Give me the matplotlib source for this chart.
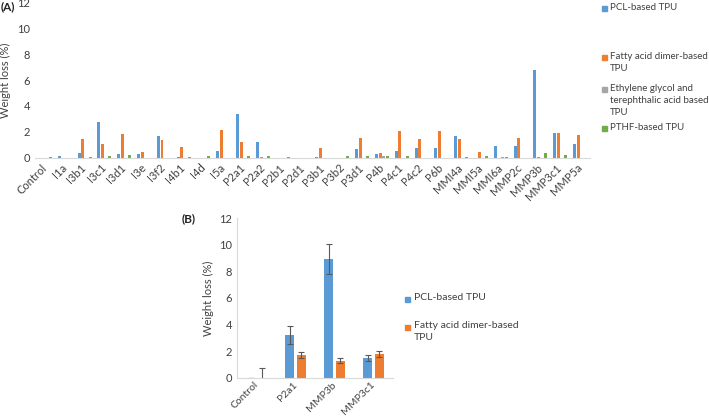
import numpy as np
import matplotlib
matplotlib.use('Agg')
import matplotlib.pyplot as plt
from matplotlib.patches import Rectangle

plt.rcParams['font.family'] = ['Lato', 'DejaVu Sans']

# Panel (A) data
samples = ['Control', 'I1a', 'I3b1', 'I3c1', 'I3d1', 'I3e', 'I3f2', 'I4b1', 'I4d', 'I5a',
           'P2a1', 'P2a2', 'P2b1', 'P2d1', 'P3b1', 'P3b2', 'P3d1', 'P4b', 'P4c1', 'P4c2',
           'P6b', 'MMI4a', 'MMI5a', 'MMI6a', 'MMP2c', 'MMP3b', 'MMP3c1', 'MMP5a']
pcl = [0, 0.13, 0.38, 2.74, 0.30, 0.26, 1.67, 0.03, 0, 0.51,
       3.41, 1.18, 0, 0, 0.05, 0, 0.67, 0.31, 0.49, 0.72,
       0.72, 1.64, 0, 0.92, 0.92, 6.82, 1.90, 1.08]
fatty = [0, 0, 1.46, 1.05, 1.82, 0.41, 1.36, 0.82, 0, 2.13,
         1.20, 0.03, 0, 0, 0.72, 0, 1.49, 0.36, 2.03, 1.41,
         2.03, 1.41, 0.44, 0, 1.54, 0.05, 1.92, 1.72]
eg_ta = [0, 0, 0, 0, 0, 0, 0, 0, 0, 0,
         0, 0, 0, 0, 0, 0, 0, 0.15, 0, 0,
         0, 0, 0, 0.03, 0, 0, 0, 0]
pthf = [0.05, 0, 0.05, 0.13, 0.20, 0, 0, 0.05, 0.10, 0,
        0.13, 0.10, 0.06, 0, 0, 0.08, 0.10, 0.10, 0.10, 0,
        0, 0.05, 0.13, 0.02, 0, 0.38, 0.18, 0]
labels_a = ['PCL-based TPU', 'Fatty acid dimer-based\nTPU',
            'Ethylene glycol and\nterephthalic acid based\nTPU', 'PTHF-based TPU']

# Panel (B) data
samples_b = ['Control', 'P2a1', 'MMP3b', 'MMP3c1']
pcl_b = [-0.05, 3.22, 8.94, 1.48]
pcl_b_err = [0, 0.65, 1.12, 0.25]
fatty_b = [-0.05, 1.71, 1.28, 1.78]
fatty_b_err = [0.8, 0.26, 0.2, 0.25]
labels_b = ['PCL-based TPU', 'Fatty acid dimer-based\nTPU']

colors = ['#5B9BD5', '#ED7D31', '#A5A5A5', '#70AD47']
txt = '#404040'
W, H = 709, 416

fig = plt.figure(figsize=(W / 100, H / 100), dpi=100)


def px_axes(l, t, r, b):
    return fig.add_axes([l / W, 1 - b / H, (r - l) / W, (b - t) / H])


def style(ax):
    for s in ['top', 'right']:
        ax.spines[s].set_visible(False)
    ax.spines['bottom'].set_color('#D9D9D9')
    ax.spines['left'].set_color('#D9D9D9')
    ax.tick_params(length=0, colors=txt, labelsize=8)
    ax.set_ylim(0, 12)
    ax.set_yticks(range(0, 13, 2))


# ---- Panel A ----
axA = px_axes(35, 3, 590, 157.5)
style(axA)
axA.spines['left'].set_visible(False)
x = np.arange(len(samples))
w = 0.15
step = 0.185
for i, vals in enumerate([pcl, fatty, eg_ta, pthf]):
    axA.bar(x + (i - 1.5) * step, vals, w, color=colors[i])
axA.set_xlim(-0.5, len(samples) - 0.5)
axA.set_xticks(x)
axA.set_xticklabels(samples, rotation=45, ha='right', va='center', rotation_mode='anchor')
axA.tick_params(axis='x', pad=6)
axA.set_ylabel('Weight loss (%)', color=txt, fontsize=8)
axA.yaxis.set_label_coords(-(35 - 11) / 555, 0.5)
fig.text(1 / W, 1 - 7 / H, '(A)', fontsize=8.5, fontweight='bold', color='#222222', va='center')

ys_a = [8, 57, 89, 128]
for lab, c, y in zip(labels_a, colors, ys_a):
    fig.patches.append(Rectangle((602 / W, 1 - (y + 3) / H), 5 / W, 5 / H,
                                 transform=fig.transFigure, color=c))
    fig.text(610 / W, 1 - (y - 5) / H, lab, fontsize=7, color=txt, va='top',
             linespacing=1.4)

# ---- Panel B ----
axB = px_axes(237, 218.3, 393, 377.7)
style(axB)
xb = np.arange(len(samples_b))
wb = 0.235
err_kw = dict(ecolor='#595959', elinewidth=0.8, capsize=2.5, capthick=0.8)
axB.bar(xb - 0.145, pcl_b, wb, color=colors[0], yerr=pcl_b_err, error_kw=err_kw, clip_on=False)
axB.bar(xb + 0.145, fatty_b, wb, color=colors[1], yerr=fatty_b_err, error_kw=err_kw, clip_on=False)
axB.set_xlim(-0.5, len(samples_b) - 0.5)
axB.set_xticks(xb)
axB.set_xticklabels(samples_b, rotation=45, ha='right', va='center', rotation_mode='anchor', fontsize=7.5)
axB.tick_params(axis='x', pad=4)
axB.set_ylabel('Weight loss (%)', color=txt, fontsize=8)
axB.yaxis.set_label_coords(-(237 - 214) / 156, 0.5)
fig.text(182 / W, 1 - 219 / H, '(B)', fontsize=8.5, fontweight='bold', color='#222222', va='center')

ys_b = [299, 327]
for lab, c, y in zip(labels_b, colors[:2], ys_b):
    fig.patches.append(Rectangle((405 / W, 1 - (y + 3) / H), 5 / W, 5 / H,
                                 transform=fig.transFigure, color=c))
    fig.text(414 / W, 1 - (y - 6) / H, lab, fontsize=7.5, color=txt, va='top',
             linespacing=1.4)

fig.savefig('out.png', dpi=100)
